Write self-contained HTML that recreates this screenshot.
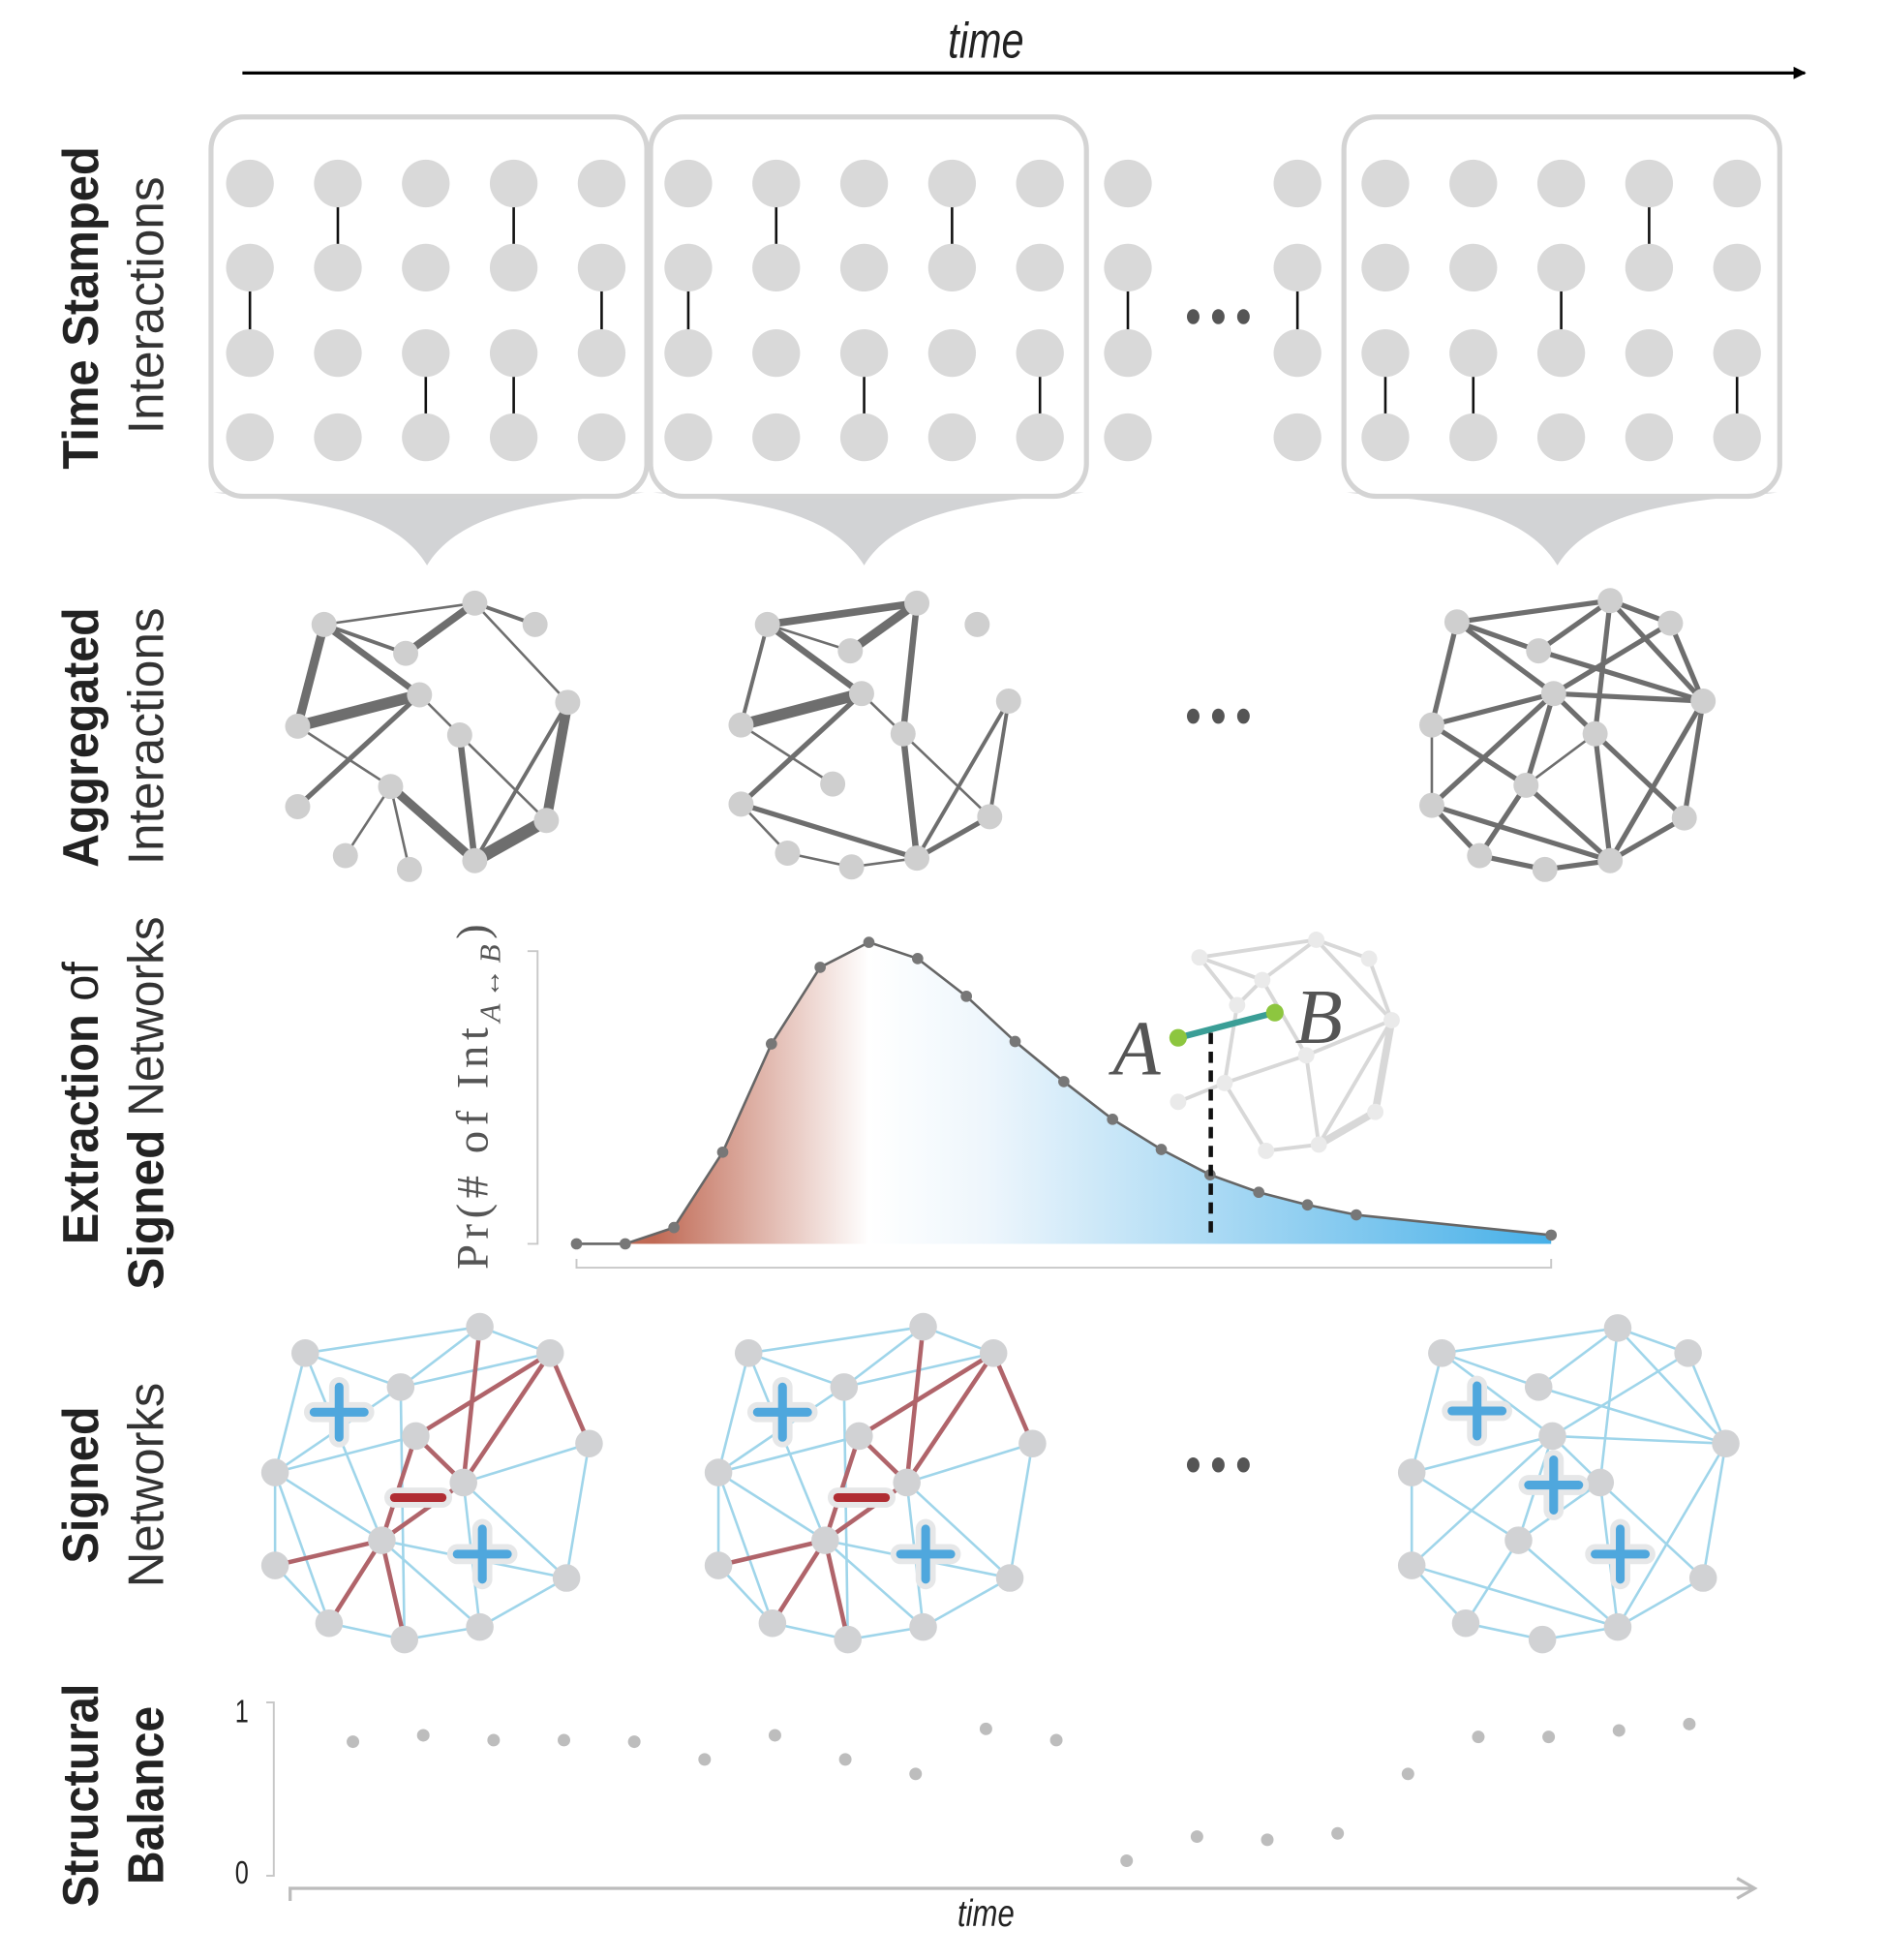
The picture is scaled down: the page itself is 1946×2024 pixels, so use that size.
<!DOCTYPE html>
<html><head><meta charset="utf-8"><style>
html,body{margin:0;padding:0;background:#fff;}
svg{display:block;}
</style></head><body>
<svg id="fig" width="1946" height="2024" viewBox="0 0 1500 1560" xmlns="http://www.w3.org/2000/svg" font-family="Liberation Sans, sans-serif">
<defs>
<linearGradient id="distGrad" gradientUnits="userSpaceOnUse" x1="459" y1="0" x2="1235" y2="0">
<stop offset="0.08" stop-color="#c06a55"/>
<stop offset="0.3" stop-color="#ffffff"/>
<stop offset="0.42" stop-color="#eef6fc"/>
<stop offset="1" stop-color="#47b0e8"/>
</linearGradient>
<marker id="arrBlack" markerWidth="10" markerHeight="10" refX="9" refY="5" orient="auto" markerUnits="userSpaceOnUse"><path d="M0,0 L10,5 L0,10 Z" fill="#000"/></marker>
</defs>

<text x="785" y="46" font-size="40" font-style="italic" text-anchor="middle" fill="#222" transform="translate(785 0) scale(0.8 1) translate(-785 0)">time</text>
<line x1="193" y1="58" x2="1437" y2="58" stroke="#000" stroke-width="2.5" marker-end="url(#arrBlack)"/>

<g font-size="40">
<text transform="translate(78 245) rotate(-90)" text-anchor="middle" font-weight="bold" fill="#222" textLength="257" lengthAdjust="spacingAndGlyphs">Time Stamped</text>
<text transform="translate(130 243) rotate(-90)" text-anchor="middle" fill="#333" textLength="205" lengthAdjust="spacingAndGlyphs">Interactions</text>
</g>
<g font-size="40">
<text transform="translate(78 587) rotate(-90)" text-anchor="middle" font-weight="bold" fill="#222" textLength="207" lengthAdjust="spacingAndGlyphs">Aggregated</text>
<text transform="translate(130 586) rotate(-90)" text-anchor="middle" fill="#333" textLength="205" lengthAdjust="spacingAndGlyphs">Interactions</text>
</g>
<g font-size="40">
<text transform="translate(78 878) rotate(-90)" text-anchor="middle" fill="#222" textLength="225" lengthAdjust="spacingAndGlyphs"><tspan font-weight="bold">Extraction</tspan> of</text>
<text transform="translate(130 878) rotate(-90)" text-anchor="middle" fill="#333" textLength="297" lengthAdjust="spacingAndGlyphs"><tspan font-weight="bold" fill="#222">Signed</tspan> Networks</text>
</g>
<g font-size="40">
<text transform="translate(78 1182) rotate(-90)" text-anchor="middle" font-weight="bold" fill="#222" textLength="125" lengthAdjust="spacingAndGlyphs">Signed</text>
<text transform="translate(130 1182) rotate(-90)" text-anchor="middle" fill="#333" textLength="163" lengthAdjust="spacingAndGlyphs">Networks</text>
</g>
<g font-size="40">
<text transform="translate(78 1429) rotate(-90)" text-anchor="middle" font-weight="bold" fill="#222" textLength="178" lengthAdjust="spacingAndGlyphs">Structural</text>
<text transform="translate(130 1429) rotate(-90)" text-anchor="middle" font-weight="bold" fill="#222" textLength="142" lengthAdjust="spacingAndGlyphs">Balance</text>
</g>

<g id="timestamped"></g>
<g id="aggregated"></g>
<g id="dist"></g>
<g id="signed"></g>
<g id="balance"></g>
</svg>
<script>
// ---------- data ----------
const balanceTimes = [1,2,3,4,5,6,7,8,9,10,11,12,13,14,15,16,17,18,19,20];
const balanceValues = [0.81,0.85,0.82,0.82,0.81,0.70,0.85,0.70,0.61,0.89,0.82,0.07,0.22,0.20,0.24,0.61,0.84,0.84,0.88,0.92];
const balanceTickLabels = ["0","1"];
const balanceTickValues = [0,1];
const distBins = [0,1,2,3,4,5,6,7,8,9,10,11,12,13,14,15,16,20];
const distProb = [0,0,0.054,0.304,0.663,0.917,1.0,0.946,0.821,0.671,0.538,0.413,0.313,0.229,0.171,0.129,0.096,0.029];

const NS = "http://www.w3.org/2000/svg";
function mk(tag, attrs, parent){
  const e = document.createElementNS(NS, tag);
  for (const k in attrs) e.setAttribute(k, attrs[k]);
  if (parent) parent.appendChild(e);
  return e;
}

(function(){
  const g = document.getElementById('timestamped');
  const boxes = [168, 518, 1070];
  const tips = [340, 688, 1240];
  boxes.forEach((bx, i) => {
    const f = mk('path', {d:`M${bx+2},392 H${bx+345} C${bx+290},398 ${tips[i]+30},400 ${tips[i]},450 C${tips[i]-30},400 ${bx+60},398 ${bx+2},392 Z`, fill:'#d2d3d5'}, g);
    
    
    const r = mk('rect', {x:bx, y:93, width:347, height:302, rx:26, fill:'#fff', stroke:'#d4d4d4', 'stroke-width':4}, g);
    
    
  });
  const cols = [199,269,339,409,479,548,618,688,758,828,898,1033,1103,1173,1243,1313,1383];
  const rows = [146,213,281,348];
  const links = [[1,0],[3,0],[0,1],[4,1],[2,2],[3,2],[6,0],[8,0],[5,1],[7,2],[9,2],[10,1],[11,1],[15,0],[14,1],[12,2],[13,2],[16,2]];
  links.forEach(([c, r0]) => {
    const l = mk('line', {x1:cols[c], x2:cols[c], y1:rows[r0], y2:rows[r0+1], stroke:'#111', 'stroke-width':2}, g);
    
    
  });
  cols.forEach(cx => rows.forEach(cy => {
    const c = mk('circle', {cx, cy, r:19, fill:'#d9d9d9'}, g);
    
    
  }));
  [950,970,990].forEach(x => {
    const d = mk('ellipse', {cx:x, cy:252, rx:5, ry:6, fill:'#555'}, g);
    
    
  });
})();

const net3Edges = [[0,1,4],[1,2,4],[0,3,4],[3,1,4],[0,4,4],[3,5,4],[1,5,4],[2,5,4],[2,4,4],[1,7,4],[4,5,4],[0,6,4],[6,4,4],[4,9,4],[4,8,4],[4,7,4],[7,8,2],[7,13,4],[7,10,4],[6,8,4],[6,9,2],[9,13,4],[9,11,4],[8,11,4],[8,13,4],[11,12,4],[12,13,4],[13,10,4],[13,5,4],[10,5,4]];

(function(){
  const g = document.getElementById('aggregated');
  const nets = [
    {nodes:[[258,497],[378,480],[426,497],[323,520],[334,553],[237,578],[452,559],[366,585],[237,642],[311,626],[435,653],[378,685],[275,681],[326,692]],
     edges:[[0,1,2],[1,2,3],[0,3,3],[3,1,6],[0,4,5],[0,5,7],[5,4,9],[4,8,4],[4,7,2],[1,6,2],[5,9,2],[9,11,7],[9,12,2],[9,13,2],[7,11,5],[7,10,2],[6,11,3],[6,10,8],[11,10,10]]},
    {nodes:[[611,497],[730,480],[778,497],[677,518],[686,552],[590,577],[803,558],[719,584],[663,624],[590,640],[788,650],[730,683],[627,679],[678,690]],
     edges:[[0,1,6],[1,3,7],[0,3,2],[0,5,3],[0,4,5],[5,4,9],[5,8,2],[4,9,4],[4,7,2],[1,7,5],[7,11,5],[7,10,2],[9,11,4],[9,12,2],[12,13,2],[13,11,2],[6,11,3],[6,10,3],[10,11,4]]},
    {nodes:[[1160,495],[1282,478],[1330,496],[1225,518],[1237,552],[1356,558],[1140,577],[1270,584],[1215,625],[1140,641],[1341,651],[1178,681],[1230,692],[1282,685]],
     edges:net3Edges}
  ];
  nets.forEach(n => {
    n.edges.forEach(([a,b,w]) => {
      const l = mk('line', {x1:n.nodes[a][0], y1:n.nodes[a][1], x2:n.nodes[b][0], y2:n.nodes[b][1], stroke:'#6e6e6e', 'stroke-width':w}, g);
      
      
    });
    n.nodes.forEach(([x,y]) => {
      const c = mk('circle', {cx:x, cy:y, r:10, fill:'#cfcfcf'}, g);
      
      
    });
  });
  [950,970,990].forEach(x => {
    const d = mk('ellipse', {cx:x, cy:570, rx:5, ry:6, fill:'#555'}, g);
    
    
  });
})();

(function(){
  const g = document.getElementById('dist');
  const x0 = 459, x1 = 1235, y0 = 990, yTop = 750;
  const maxBin = Math.max(...distBins);
  const xs = b => x0 + (x1 - x0) * b / maxBin;
  const ys = p => y0 - (y0 - yTop) * p;
  const ya = mk('path', {d:'M420,757 H428 V990 H420', fill:'none', stroke:'#c8c8c8', 'stroke-width':1.5}, g);
  
  
  const xa = mk('path', {d:`M${x0},1002 V1009 H${x1} V1002`, fill:'none', stroke:'#c8c8c8', 'stroke-width':1.5}, g);
  
  
  let d = `M${xs(distBins[0])},${ys(0)}`;
  distBins.forEach((b,i) => { d += ` L${xs(b)},${ys(distProb[i])}`; });
  d += ` L${xs(distBins[distBins.length-1])},${ys(0)} Z`;
  const area = mk('path', {d, fill:'url(#distGrad)'}, g);
  
  
  let ld = '';
  distBins.forEach((b,i) => { ld += (i ? ' L' : 'M') + xs(b) + ',' + ys(distProb[i]); });
  const line = mk('path', {d:ld, fill:'none', stroke:'#666', 'stroke-width':2}, g);
  
  
  distBins.forEach((b,i) => {
    const c = mk('circle', {cx:xs(b), cy:ys(distProb[i]), r:4.5, fill:'#777'}, g);
    
    
  });
  const inNodes = [[955,762],[1048,748],[1090,763],[1005,780],[1108,812],[1095,885],[1050,911],[1008,916],[938,877],[975,862],[1040,840],[985,800]];
  const inEdges = [[0,1],[1,2],[0,3],[3,1],[2,4],[4,5],[5,6],[6,7],[7,9],[9,8],[9,10],[10,6],[10,4],[0,11],[11,3],[3,10],[1,4],[11,9],[4,6]];
  inEdges.forEach(([a,b]) => {
    const l = mk('line', {x1:inNodes[a][0], y1:inNodes[a][1], x2:inNodes[b][0], y2:inNodes[b][1], stroke:'#d8d8d8', 'stroke-width':(a===4&&b===5)||(a===5&&b===6)?6:3}, g);
    
    
  });
  inNodes.forEach(([x,y]) => {
    const c = mk('circle', {cx:x, cy:y, r:6.5, fill:'#eaeaea'}, g);
    
    
  });
  const dash = mk('line', {x1:964, y1:822, x2:964, y2:ys(0)-3, stroke:'#111', 'stroke-width':3.5, 'stroke-dasharray':'9 6'}, g);
  
  
  const ab = mk('line', {x1:938, y1:826, x2:1015, y2:806, stroke:'#3a9e96', 'stroke-width':5}, g);
  
  
  [[938,826],[1015,806]].forEach(([x,y]) => {
    const c = mk('circle', {cx:x, cy:y, r:7, fill:'#8dc63f'}, g);
    
    
  });
  const ta = mk('text', {x:905, y:855, 'font-size':62, 'font-style':'italic', 'font-family':'Liberation Serif, serif', fill:'#555', 'text-anchor':'middle'}, g);
  ta.textContent = 'A';
  
  
  const tb = mk('text', {x:1050, y:830, 'font-size':62, 'font-style':'italic', 'font-family':'Liberation Serif, serif', fill:'#555', 'text-anchor':'middle'}, g);
  tb.textContent = 'B';
  
  
  const yl = mk('text', {transform:'translate(388 873) rotate(-90)', 'font-size':36, 'font-family':'Liberation Serif, serif', fill:'#555', 'text-anchor':'middle', textLength:'275', lengthAdjust:'spacing'}, g);
  yl.innerHTML = 'Pr(# of Int<tspan font-size="24" font-style="italic" dy="10">A↔B</tspan><tspan dy="-10">)</tspan>';
  
  
})();

(function(){
  const g = document.getElementById('signed');
  const base = [[243,1077],[382,1056],[438,1077],[319,1104],[331,1143],[469,1149],[219,1172],[369,1180],[304,1226],[219,1246],[451,1256],[262,1292],[322,1305],[382,1295]];
  const redE = [[1,7],[2,4],[2,7],[2,5],[4,7],[4,8],[8,7],[8,9],[8,11],[8,12]];
  const blueE = [[0,1],[0,3],[1,3],[3,2],[0,6],[3,6],[3,12],[4,6],[6,9],[6,8],[6,11],[7,5],[7,13],[7,10],[5,10],[10,13],[13,12],[12,11],[9,11],[8,10],[8,13],[0,8],[1,2]];
  const base3 = [[1148,1077],[1288,1057],[1344,1077],[1225,1104],[1236,1143],[1374,1149],[1124,1172],[1274,1180],[1209,1226],[1124,1246],[1356,1256],[1167,1292],[1228,1305],[1288,1295]];
  const nets = [
    {nodes:base, red:redE, blue:blueE, plus:[[270,1124],[384,1237]], minus:[[333,1192]]},
    {nodes:base.map(([x,y])=>[x+353,y]), red:redE, blue:blueE, plus:[[623,1124],[737,1237]], minus:[[686,1192]]},
    {nodes:base3, red:[], blue:net3Edges.map(e=>[e[0],e[1]]), plus:[[1176,1123],[1237,1182],[1290,1237]], minus:[]}
  ];
  nets.forEach(n => {
    n.blue.forEach(([a,b]) => {
      const l = mk('line', {x1:n.nodes[a][0], y1:n.nodes[a][1], x2:n.nodes[b][0], y2:n.nodes[b][1], stroke:'#9fd5ea', 'stroke-width':2}, g);
      
      
    });
    n.red.forEach(([a,b]) => {
      const l = mk('line', {x1:n.nodes[a][0], y1:n.nodes[a][1], x2:n.nodes[b][0], y2:n.nodes[b][1], stroke:'#b0646a', 'stroke-width':3.5}, g);
      
      
    });
    n.nodes.forEach(([x,y]) => {
      const c = mk('circle', {cx:x, cy:y, r:11, fill:'#d1d2d4'}, g);
      
      
    });
    n.plus.forEach(([x,y]) => {
      const p = mk('g', {}, g);
      
      
      const d = `M${x-20},${y} H${x+20} M${x},${y-20} V${y+20}`;
      mk('path', {d, stroke:'#e6e7e8', 'stroke-width':16, 'stroke-linecap':'round', fill:'none'}, p);
      mk('path', {d, stroke:'#4fa7dd', 'stroke-width':7, 'stroke-linecap':'round', fill:'none'}, p);
    });
    n.minus.forEach(([x,y]) => {
      const p = mk('g', {}, g);
      
      
      const d = `M${x-19},${y} H${x+19}`;
      mk('path', {d, stroke:'#e6e7e8', 'stroke-width':16, 'stroke-linecap':'round', fill:'none'}, p);
      mk('path', {d, stroke:'#b02d33', 'stroke-width':7, 'stroke-linecap':'round', fill:'none'}, p);
    });
  });
  [950,970,990].forEach(x => {
    const d = mk('ellipse', {cx:x, cy:1166, rx:5, ry:6, fill:'#555'}, g);
    
    
  });
})();

(function(){
  const g = document.getElementById('balance');
  const xStart = 281, xStep = 56, y0 = 1490, y1 = 1362;
  const xs = t => xStart + (t - 1) * xStep;
  const ys = v => y0 - (y0 - y1) * v;
  const ya = mk('path', {d:'M212,1355 H218 V1493 H212', fill:'none', stroke:'#c8c8c8', 'stroke-width':1.5}, g);
  
  
  const xa = mk('path', {d:'M231,1513 V1503 H1395 M1383,1495 L1397,1503 L1383,1511', fill:'none', stroke:'#bcbcbc', 'stroke-width':2.5}, g);
  
  
  balanceTickValues.forEach((v,i) => {
    const t = mk('text', {x:198, y:ys(v)+9, 'font-size':26, 'text-anchor':'end', fill:'#222', transform:`translate(198 0) scale(0.75 1) translate(-198 0)`}, g);
    t.textContent = balanceTickLabels[i];
    
    
  });
  balanceTimes.forEach((tt,i) => {
    const c = mk('circle', {cx:xs(tt), cy:ys(balanceValues[i]), r:5, fill:'#bdbdbd'}, g);
    
    
  });
  const xt = mk('text', {x:785, y:1533, 'font-size':30, 'font-style':'italic', 'text-anchor':'middle', fill:'#222', transform:'translate(785 0) scale(0.8 1) translate(-785 0)'}, g);
  xt.textContent = 'time';
  
  
})();
</script>
</body></html>
